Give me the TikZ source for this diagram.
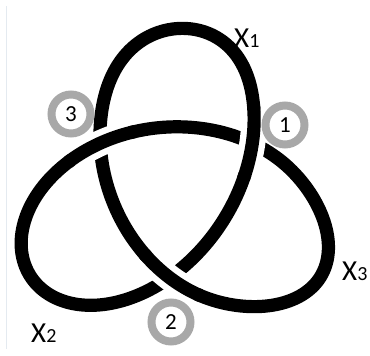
\documentclass[tikz,border=0pt]{standalone}
\usepackage{fontspec}
\setmainfont{Carlito}
\definecolor{edgeline}{RGB}{228,234,240}
\definecolor{ringgray}{RGB}{168,168,168}
\begin{document}
\begin{tikzpicture}[x=1pt,y=-1pt,
  declare function={
    ku(\s)=-52*sin(\s)+112*sin(2*\s);
    kv(\s)=1.02*(52*cos(\s)+112*cos(2*\s));
    kw(\s)=0.866*ku(\s)-0.5*kv(\s);
    ke(\s)=0.0018*(max(0,kw(\s)-90))^2;
    kx(\s)=ku(\s)+0.05*kv(\s)+0.866*ke(\s);
    ky(\s)=kv(\s)-0.00128*(max(0,kv(\s)-90))^2-0.5*ke(\s);
  },
  knot/.style={line width=13.2pt, line join=round},
  gapline/.style={white, line width=26pt},
  ring/.style={circle, draw=ringgray, line width=8pt, fill=white, minimum size=39pt, inner sep=0pt,
               font=\fontsize{23}{23}\selectfont, text=black},
  lab/.style={anchor=base west, inner sep=0pt, font=\fontsize{29}{29}\selectfont}]
\useasboundingbox (0,0) rectangle (370,356);
\fill[white] (0,0) rectangle (370,356);
\coordinate (edgetop) at (6,6);
\coordinate (edgebot) at (6,349);
\draw[edgeline, line width=1pt] (edgetop) -- (edgebot);
% trefoil knot
\begin{scope}[shift={(174,188)}, yscale=-1]
  \draw[knot] plot[domain=0:360, samples=361, variable=\t] ({kx(\t)},{ky(\t)}) -- cycle;
  \foreach \o in {43.1,163.1,283.1}{
    \pgfmathsetmacro\ga{\o-7}
    \pgfmathsetmacro\gb{\o+7}
    \pgfmathsetmacro\ka{\o-8}
    \pgfmathsetmacro\kb{\o+8}
    \draw[gapline] plot[domain=\ga:\gb, samples=29, variable=\t] ({kx(\t)},{ky(\t)});
    \draw[knot] plot[domain=\ka:\kb, samples=33, variable=\t] ({kx(\t)},{ky(\t)});
  }
\end{scope}
% crossing markers
\node[ring] (c1) at (285,125) {1};
\node[ring] (c2) at (171,322) {2};
\node[ring] (c3) at (71,114) {3};
% loop labels
\node[lab] (x1) at (234,47) {X{\fontsize{20}{20}\selectfont 1}};
\node[lab] (x2) at (31,342) {X{\fontsize{20}{20}\selectfont 2}};
\node[lab] (x3) at (342,280) {X{\fontsize{20}{20}\selectfont 3}};
\end{tikzpicture}
\end{document}
